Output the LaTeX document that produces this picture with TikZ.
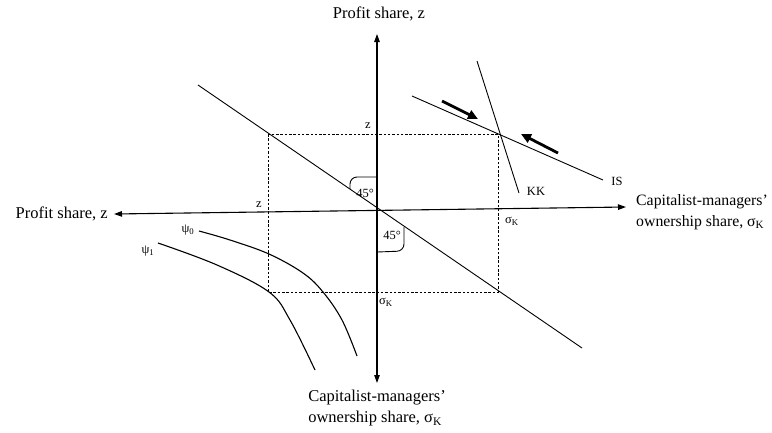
\documentclass[tikz,border=0pt]{standalone}
\usepackage{fontspec}
\setmainfont{Liberation Serif}
\usetikzlibrary{arrows.meta}
\begin{document}
\begin{tikzpicture}[x=1pt,y=-1pt,
  big/.style={font=\fontsize{16.5}{21}\selectfont, inner sep=0pt},
  bigr/.style={font=\fontsize{15.8}{21}\selectfont, inner sep=0pt},
  small/.style={font=\fontsize{12.5}{14}\selectfont, inner sep=0pt},
  axisline/.style={line width=1.1pt},
  axisboth/.style={axisline, {Triangle[length=8pt,width=5.5pt]}-{Triangle[length=8pt,width=5.5pt]}},
  thinline/.style={line width=0.9pt},
  curveline/.style={line width=1.1pt},
  dashline/.style={line width=0.8pt, dash pattern=on 2.5pt off 1.8pt},
  bigarrow/.style={line width=2.8pt, -{Triangle[length=10pt,width=9pt]}},
]
\useasboundingbox (0,0) rectangle (772,432);

% axes
\coordinate (vt) at (377,34);
\coordinate (vb) at (377,383);
\coordinate (hl) at (114,214);
\coordinate (hr) at (626,207);
\draw[axisboth] (vb) -- (vt);
\draw[axisboth] (hl) -- (hr);

% dashed rectangle
\coordinate (rtl) at (268,134);
\coordinate (rbr) at (498,292);
\draw[dashline] (rtl) rectangle (rbr);

% 45-degree line
\coordinate (d1) at (198,85);
\coordinate (d2) at (582,348);
\draw[thinline] (d1) -- (d2);

% KK and IS
\coordinate (kk1) at (477,61);
\coordinate (kk2) at (519,193);
\draw[thinline] (kk1) -- (kk2);
\coordinate (is1) at (412,96);
\coordinate (is2) at (603,180);
\draw[thinline] (is1) -- (is2);

% thick arrows
\coordinate (a1s) at (442,101);
\coordinate (a1e) at (478,119);
\coordinate (a2s) at (558,153);
\coordinate (a2e) at (521,134);
\draw[bigarrow] (a1s) -- (a1e);
\draw[bigarrow] (a2s) -- (a2e);

% 45 degree brackets
\coordinate (b1a) at (377,177);
\coordinate (b1b) at (350,177);
\coordinate (b1c) at (350,189);
\draw[thinline, rounded corners=7pt] (b1a) -- (b1b) -- (b1c);
\coordinate (b2a) at (377,252);
\coordinate (b2b) at (404,251);
\coordinate (b2c) at (404,227);
\draw[thinline, rounded corners=7pt] (b2a) -- (b2b) -- (b2c);

% psi curves
\draw[curveline] plot[smooth, tension=0.6] coordinates {(199,231) (230,240) (269,254) (303,273) (323,292) (342,320) (357,356)};
\draw[curveline] plot[smooth, tension=0.6] coordinates {(158,243) (217,265) (269,292) (290,320) (315,370)};

% labels
\node[big] (ltop) at (379,14) {Profit share, z};
\node[big, anchor=east] (lleft) at (108,214) {Profit share, z};
\node[bigr, anchor=west, align=left] (lright) at (636,212) {Capitalist-managers'\\ownership share, σ\textsubscript{K}};
\node[big, align=left] (lbottom) at (377,408) {Capitalist-managers'\\ownership share, σ\textsubscript{K}};

\node[small] (zt) at (368,126) {z};
\node[small] (zl) at (259,205) {z};
\node[small] (sr) at (512,221) {σ\textsubscript{K}};
\node[small] (sb) at (386,302) {σ\textsubscript{K}};
\node[small] (kkl) at (536,191) {KK};
\node[small] (isl) at (617,181) {IS};
\node[small] (p0) at (188,230) {ψ\textsubscript{0}};
\node[small] (p1) at (148,251) {ψ\textsubscript{1}};
\node[small] (g1) at (365,193) {45°};
\node[small] (g2) at (392,235) {45°};
\end{tikzpicture}
\end{document}
